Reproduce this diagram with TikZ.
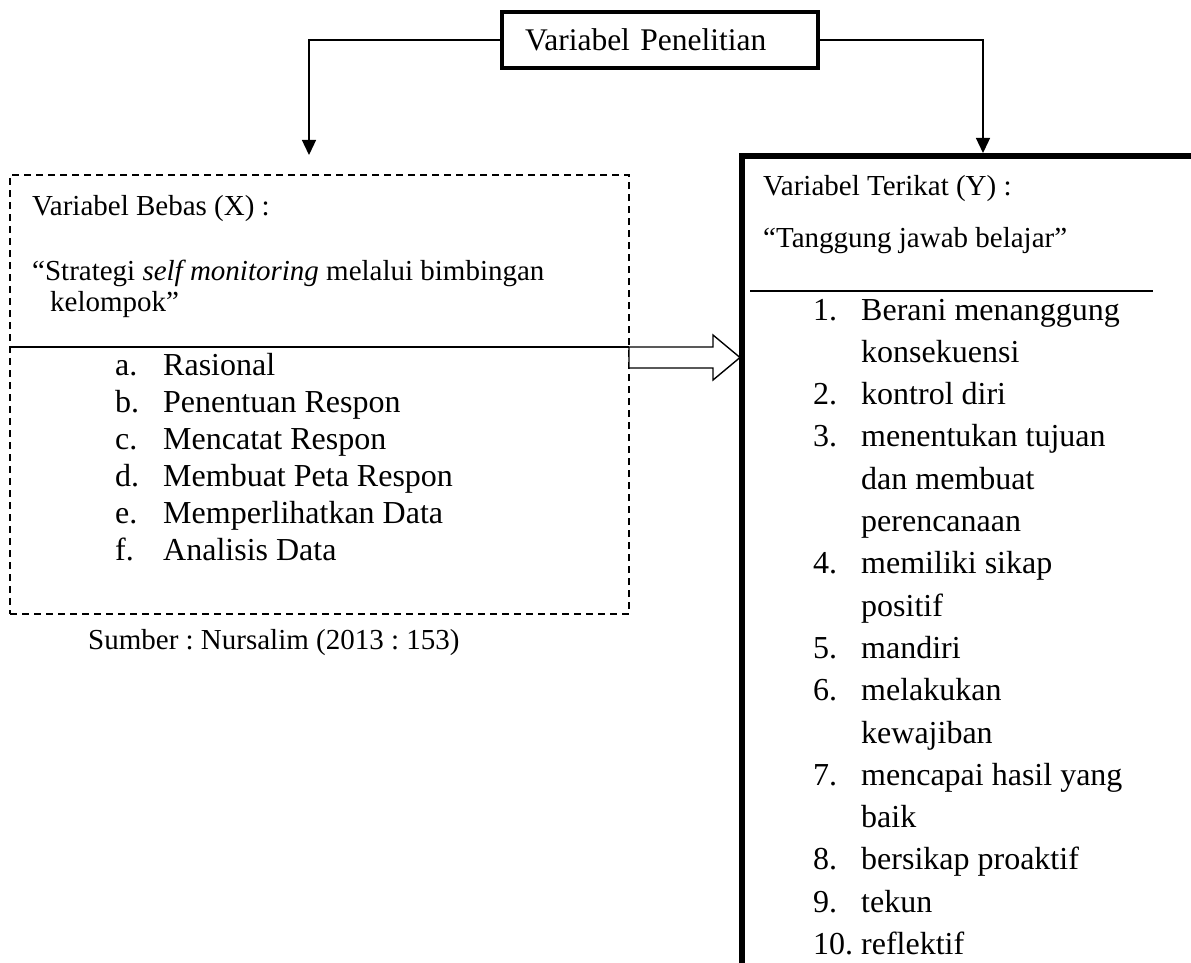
\documentclass[tikz,border=0pt]{standalone}
\usepackage{fontspec}
\setmainfont{Liberation Serif}
\usetikzlibrary{arrows.meta}
\frenchspacing

\tikzset{
  topbox/.style={draw, line width=3.5pt, minimum height=56pt, text width=270pt, inner xsep=23pt, align=left, font=\fontsize{31.5}{36}\selectfont},
  bebasbox/.style={draw, line width=1.5pt, dash pattern=on 7pt off 5pt, minimum width=619pt, minimum height=439pt, inner sep=0pt},
  hdr/.style={font=\fontsize{29}{34}\selectfont, anchor=base west, inner sep=0pt},
  item/.style={font=\fontsize{32}{37}\selectfont, anchor=base west, inner sep=0pt},
  conn/.style={line width=1.3pt, -{Triangle[length=15pt,width=14pt]}},
  sepline/.style={line width=1.8pt},
}

\begin{document}
\begin{tikzpicture}[x=1pt, y=-1pt, line join=miter]
\useasboundingbox (0,0) rectangle (1191,963);
\clip (0,0) rectangle (1191,963);

\path
(309,155) coordinate (tipX)
(983,153) coordinate (tipY)
(10,347) coordinate (sepA)
(629,347) coordinate (blkA)
(713,347) coordinate (blkB)
(713,335) coordinate (blkC)
(740,357.5) coordinate (blkT)
(713,380) coordinate (blkD)
(713,368) coordinate (blkE)
(629,368) coordinate (blkF)
(742,990) coordinate (terikatSW)
(742,156) coordinate (terikatNW)
(1220,156) coordinate (terikatNE)
(750,291) coordinate (sepB)
(1153,291) coordinate (sepC);

% kotak judul
\node[topbox] (penelitian) at (660,40) {Variabel Penelitian};
\draw[conn] (penelitian.west) -| (tipX);
\draw[conn] (penelitian.east) -| (tipY);

% variabel bebas
\node[bebasbox] (bebas) at (319.5,394.5) {};
\draw[sepline] (sepA) -- (blkA);
\draw[line width=1.4pt, fill=white] (blkA)--(blkB)--(blkC)--(blkT)--(blkD)--(blkE)--(blkF)--cycle;
\node[hdr] (bebasX) at (32,215) {Variabel Bebas (X) :};
\node[hdr] (bebasA) at (32,280) {“Strategi \textit{self monitoring} melalui bimbingan};
\node[hdr] (bebasB) at (50,311) {kelompok”};
\foreach \k/\l/\t in {0/a./Rasional, 1/b./Penentuan Respon, 2/c./Mencatat Respon, 3/d./Membuat Peta Respon, 4/e./Memperlihatkan Data, 5/f./Analisis Data}
  {\node[item] (xl\k) at (115,{375+37*\k}) {\l};
   \node[item] (xt\k) at (163,{375+37*\k}) {\t};}
\node[hdr] (sumber) at (88,649) {Sumber : Nursalim (2013 : 153)};

% variabel terikat
\draw[line width=5.5pt] (terikatSW) -- (terikatNW) -- (terikatNE);
\draw[sepline] (sepB) -- (sepC);
\node[hdr] (terikatY) at (763,195) {Variabel Terikat (Y) :};
\node[hdr] (terikatA) at (763,247) {“Tanggung jawab belajar”};
\foreach \k/\n/\t in {0/1./Berani menanggung, 1//konsekuensi, 2/2./kontrol diri, 3/3./menentukan tujuan, 4//dan membuat, 5//perencanaan, 6/4./memiliki sikap, 7//positif, 8/5./mandiri, 9/6./melakukan, 10//kewajiban, 11/7./mencapai hasil yang, 12//baik, 13/8./bersikap proaktif, 14/9./tekun, 15/10./reflektif}
  {\node[item] (yn\k) at (813,{320+42.3*\k}) {\n};
   \node[item] (yt\k) at (861,{320+42.3*\k}) {\t};}
\end{tikzpicture}
\end{document}
